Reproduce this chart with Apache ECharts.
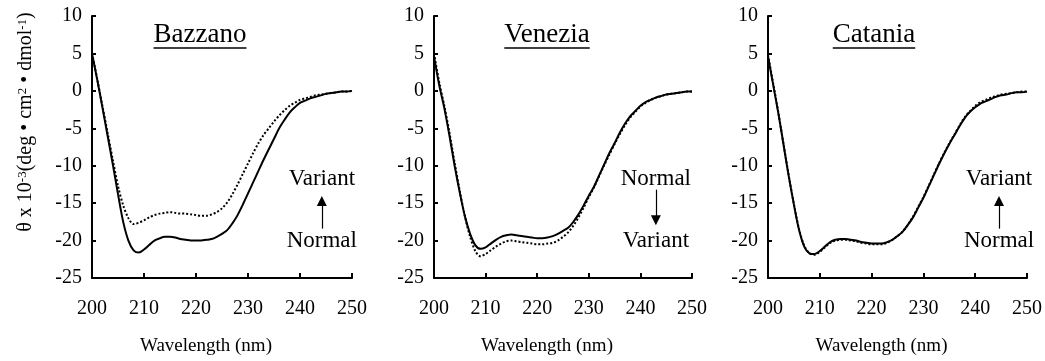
<!DOCTYPE html>
<html>
<head>
<meta charset="utf-8">
<script src="https://cdn.jsdelivr.net/npm/echarts@6/dist/echarts.min.js"></script>
<style>
  html, body { margin: 0; padding: 0; background: #fff; }
  #chart { width: 1045px; height: 361px; }
</style>
</head>
<body>
<div id="chart"></div>
<script>
// wavelength in nm, theta x 10^-3 (deg cm2 dmol-1)
const wavelengths = [200, 201, 202, 203, 204, 205, 206, 207, 208, 209, 210, 211, 212, 213, 214, 215, 216, 217, 218, 219,
  220, 221, 222, 223, 224, 225, 226, 227, 228, 229, 230, 231, 232, 233, 234, 235, 236, 237, 238, 239,
  240, 241, 242, 243, 244, 245, 246, 247, 248, 249, 250];

const bazzanoNormal = [5.0, 1.5, -2.2, -6.0, -9.8, -13.8, -17.5, -20.0, -21.3, -21.6, -21.2, -20.6, -20.0, -19.7, -19.5, -19.5, -19.6, -19.8, -19.9, -20.0,
  -20.0, -20.0, -19.9, -19.8, -19.5, -19.1, -18.6, -17.7, -16.6, -15.2, -13.7, -12.2, -10.7, -9.2, -7.8, -6.4, -5.0, -3.9, -2.9, -2.2,
  -1.6, -1.3, -1.0, -0.8, -0.6, -0.4, -0.3, -0.2, -0.1, -0.1, 0.0];
const bazzanoVariant = [5.0, 1.6, -2.0, -5.6, -9.2, -12.7, -15.3, -17.0, -17.8, -17.6, -17.3, -16.9, -16.6, -16.4, -16.3, -16.2, -16.3, -16.4, -16.4, -16.5,
  -16.6, -16.7, -16.7, -16.5, -16.2, -15.7, -14.9, -13.8, -12.5, -11.1, -9.7, -8.3, -7.0, -5.9, -5.0, -4.1, -3.3, -2.6, -2.0, -1.6,
  -1.2, -1.0, -0.8, -0.6, -0.5, -0.4, -0.3, -0.2, -0.1, -0.1, 0.0];

const veneziaNormal = [4.6, 0.8, -2.3, -6.0, -10.0, -13.6, -16.8, -19.1, -20.6, -21.1, -20.9, -20.4, -19.9, -19.5, -19.3, -19.2, -19.3, -19.4, -19.5, -19.6,
  -19.7, -19.7, -19.6, -19.4, -19.1, -18.7, -18.3, -17.5, -16.5, -15.3, -14.0, -12.8, -11.3, -9.8, -8.3, -7.0, -5.6, -4.4, -3.4, -2.7,
  -2.0, -1.5, -1.2, -0.9, -0.7, -0.5, -0.4, -0.3, -0.2, -0.1, -0.1];
const veneziaVariant = [5.0, 1.2, -2.0, -5.6, -9.6, -13.4, -16.8, -19.5, -21.4, -22.1, -21.8, -21.3, -20.8, -20.4, -20.1, -20.0, -20.1, -20.2, -20.3, -20.4,
  -20.5, -20.5, -20.4, -20.3, -20.0, -19.5, -18.9, -18.0, -16.9, -15.6, -14.2, -12.9, -11.4, -9.9, -8.5, -7.1, -5.8, -4.6, -3.6, -2.8,
  -2.1, -1.6, -1.2, -0.9, -0.7, -0.5, -0.4, -0.3, -0.2, -0.1, -0.1];

const cataniaNormal = [4.6, 0.8, -3.0, -7.2, -11.4, -15.2, -18.6, -20.8, -21.7, -21.8, -21.4, -20.8, -20.2, -19.9, -19.8, -19.8, -19.9, -20.0, -20.2, -20.3,
  -20.4, -20.4, -20.4, -20.2, -19.9, -19.4, -18.8, -17.9, -16.9, -15.6, -14.3, -12.8, -11.3, -9.8, -8.4, -7.1, -5.9, -4.7, -3.6, -2.8,
  -2.2, -1.7, -1.4, -1.1, -0.8, -0.6, -0.5, -0.3, -0.2, -0.2, -0.1];
const cataniaVariant = [4.8, 1.0, -2.9, -7.1, -11.3, -15.1, -18.5, -20.7, -21.7, -21.9, -21.5, -20.9, -20.3, -20.0, -19.9, -19.9, -20.0, -20.1, -20.3, -20.4,
  -20.5, -20.5, -20.5, -20.3, -19.9, -19.4, -18.8, -17.9, -16.8, -15.5, -14.2, -12.7, -11.2, -9.7, -8.3, -7.0, -5.8, -4.6, -3.5, -2.7,
  -2.0, -1.5, -1.2, -0.9, -0.7, -0.5, -0.4, -0.3, -0.2, -0.1, -0.1];

const panelNames = ['Bazzano', 'Venezia', 'Catania'];
const normalSets = [bazzanoNormal, veneziaNormal, cataniaNormal];
const variantSets = [bazzanoVariant, veneziaVariant, cataniaVariant];

// annotation text (upper, lower) and arrow ends, in data units
const upperLabels = ['Variant', 'Normal', 'Variant'];
const lowerLabels = ['Normal', 'Variant', 'Normal'];
const labelX = [244.2, 243.0, 244.6];
const upperLabelY = -11.8;
const lowerLabelY = -20.1;
const arrowFrom = [-18.4, -13.2, -18.4];
const arrowTo = [-14.7, -17.3, -14.7];

const xTicks = { min: 200, max: 250, interval: 10 };
const yTicks = { min: -25, max: 10, interval: 5 };

const FONT = '"Liberation Serif", "Times New Roman", serif';
const gridLeft = [92, 434, 768];
const gridWidth = [260, 258, 261];
const titleCenter = [200, 547, 874];

const chart = echarts.init(document.getElementById('chart'), null, { renderer: 'canvas' });

const ctx = document.createElement('canvas').getContext('2d');
ctx.font = '27px "Liberation Serif"';

const grid = gridLeft.map((left, i) => ({ left, width: gridWidth[i], top: 16, height: 267 }));

const xAxis = panelNames.map((_, i) => ({
  type: 'value',
  gridIndex: i,
  min: xTicks.min,
  max: xTicks.max,
  interval: xTicks.interval,
  name: 'Wavelength (nm)',
  nameLocation: 'middle',
  nameGap: 59,
  nameTextStyle: { fontFamily: FONT, fontSize: 19, color: '#000', padding: [0, 32, 0, 0] },
  axisLine: { onZero: false, lineStyle: { color: '#000', width: 2 } },
  axisTick: { show: true, inside: true, length: 5, lineStyle: { color: '#000', width: 2 } },
  axisLabel: { fontFamily: FONT, fontSize: 20, color: '#000', margin: 21 },
  splitLine: { show: false }
}));

const yAxis = panelNames.map((_, i) => ({
  type: 'value',
  gridIndex: i,
  min: yTicks.min,
  max: yTicks.max,
  interval: yTicks.interval,
  name: i === 0 ? 'θ x 10{sup|-3}(deg • cm{sup|2} • dmol{sup|-1})' : '',
  nameLocation: 'middle',
  nameRotate: 90,
  nameGap: 56,
  nameTextStyle: {
    fontFamily: FONT, fontSize: 20, color: '#000', padding: [0, 0, 0, 50],
    rich: { sup: { fontFamily: FONT, fontSize: 13, color: '#000', verticalAlign: 'top' } }
  },
  axisLine: { onZero: false, lineStyle: { color: '#000', width: 2 } },
  axisTick: { show: true, inside: true, length: 4, lineStyle: { color: '#000', width: 2 } },
  axisLabel: { fontFamily: FONT, fontSize: 20, color: '#000', margin: 10, padding: [6, 0, 0, 0] },
  splitLine: { show: false }
}));

const series = [];
panelNames.forEach((name, i) => {
  series.push({
    name: name + ' Variant',
    type: 'line',
    xAxisIndex: i,
    yAxisIndex: i,
    data: wavelengths.map((w, k) => [w, variantSets[i][k]]),
    smooth: 0.3,
    showSymbol: false,
    lineStyle: { color: '#000', width: 2, type: [2, 2] },
    z: 2
  });
  series.push({
    name: name + ' Normal',
    type: 'line',
    xAxisIndex: i,
    yAxisIndex: i,
    data: wavelengths.map((w, k) => [w, normalSets[i][k]]),
    smooth: 0.3,
    showSymbol: false,
    lineStyle: { color: '#000', width: 2 },
    z: 3,
    markPoint: {
      silent: true,
      symbol: 'circle',
      symbolSize: 1,
      itemStyle: { color: 'rgba(0,0,0,0)' },
      label: { show: true, position: 'inside', formatter: '{b}', fontFamily: FONT, fontSize: 23, color: '#000' },
      data: [
        { name: upperLabels[i], coord: [labelX[i], upperLabelY] },
        { name: lowerLabels[i], coord: [labelX[i], lowerLabelY] }
      ]
    },
    markLine: {
      silent: true,
      symbol: ['none', 'triangle'],
      symbolSize: 10,
      label: { show: false },
      lineStyle: { color: '#000', width: 1.2, type: 'solid' },
      data: [[{ coord: [labelX[i], arrowFrom[i]] }, { coord: [labelX[i], arrowTo[i]] }]]
    }
  });
});

// underlined panel titles
const graphic = panelNames.map((name, i) => {
  const w = ctx.measureText(name).width;
  return {
    type: 'group',
    x: titleCenter[i],
    y: 43,
    children: [
      { type: 'text', style: { text: name, font: '27px ' + FONT, fill: '#000', textAlign: 'center', textVerticalAlign: 'bottom' }, y: 5 },
      { type: 'line', shape: { x1: -w / 2, y1: 5, x2: w / 2, y2: 5 }, style: { stroke: '#000', lineWidth: 1.5 } }
    ]
  };
});

chart.setOption({
  animation: false,
  textStyle: { fontFamily: FONT },
  grid,
  xAxis,
  yAxis,
  series,
  graphic
});
</script>
</body>
</html>
